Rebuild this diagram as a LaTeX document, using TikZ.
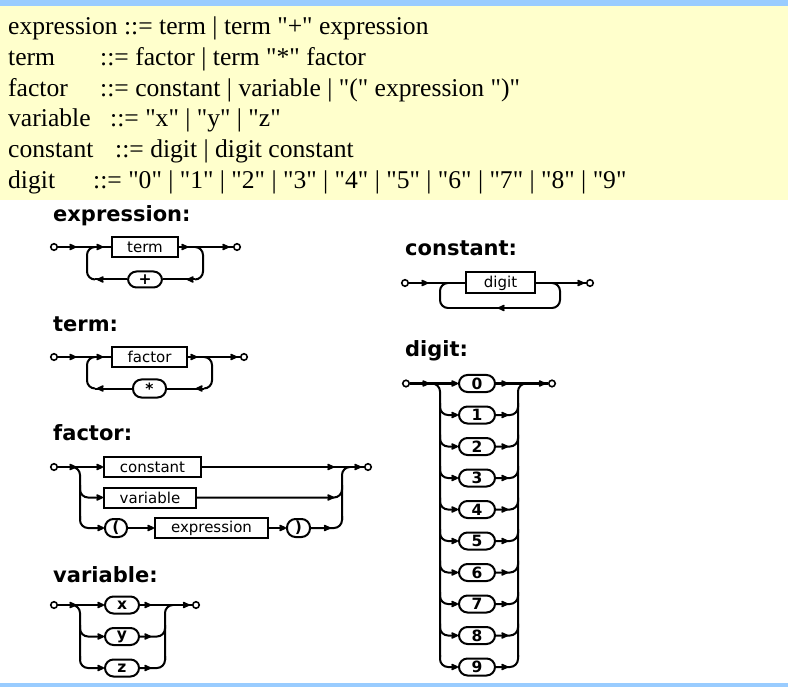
\documentclass[tikz,border=0pt]{standalone}
\usepackage{fontspec}
\setmainfont{Liberation Serif}[Ligatures=TeXOff]
\newfontfamily\dvs{DejaVu Sans}
\usetikzlibrary{arrows.meta,decorations.markings}
\definecolor{hdrblue}{RGB}{153,204,255}
\definecolor{codeyellow}{RGB}{255,255,204}
\tikzset{
  tipA/.tip={Stealth[length=8.5pt,width=8pt,inset=1.6pt,round]},
  ln/.style={line width=2pt},
  ah/.style={decoration={markings,mark=at position #1 with {\arrow{tipA}}},postaction={decorate}},
  ahh/.style 2 args={decoration={markings,mark=at position #1 with {\arrow{tipA}},mark=at position #2 with {\arrow{tipA}}},postaction={decorate}},
  boxn/.style={draw, line width=2pt, rectangle, minimum height=20pt, inner sep=0pt, font=\dvs\fontsize{15}{16}\selectfont},
  ovaln/.style={draw, line width=2pt, rectangle, rounded corners=8.5pt, minimum height=17pt, inner sep=0pt, font=\dvs\bfseries\fontsize{15.5}{16}\selectfont},
  endpt/.style={circle, draw, line width=1.6pt, fill=white, inner sep=0pt, minimum size=6.5pt},
  ttl/.style={anchor=base west, inner sep=0pt, font=\dvs\bfseries\fontsize{21}{24}\selectfont},
  gram/.style={anchor=base west, inner sep=0pt, font=\fontsize{25.6}{30}\selectfont},
}
\begin{document}
\begin{tikzpicture}[x=1pt,y=-1pt]
\useasboundingbox (0,0) rectangle (788,687);
\fill[white] (0,0) rectangle (788,687);
\fill[codeyellow] (0,6) rectangle (788,200);
\fill[hdrblue] (0,0) rectangle (788,6);
\fill[hdrblue] (0,683) rectangle (788,687);

% grammar text
\node[gram] (g1) at (8,34.5) {expression ::= term | term "+" expression};
\node[gram] (g2a) at (8,65.5) {term};
\node[gram] (g2b) at (100,65.5) {::= factor | term "*" factor};
\node[gram] (g3a) at (8,96.5) {factor};
\node[gram] (g3b) at (100,96.5) {::= constant | variable | "(" expression ")"};
\node[gram] (g4a) at (8,127) {variable};
\node[gram] (g4b) at (110,127) {::= "x" | "y" | "z"};
\node[gram] (g5a) at (8,158) {constant};
\node[gram] (g5b) at (115,158) {::= digit | digit constant};
\node[gram] (g6a) at (8,189) {digit};
\node[gram] (g6b) at (93,189) {::= "0" | "1" | "2" | "3" | "4" | "5" | "6" | "7" | "8" | "9"};

% titles
\node[ttl] (tExpr) at (53,222) {expression:};
\node[ttl] (tTerm) at (53,332) {term:};
\node[ttl] (tFact) at (53,440) {factor:};
\node[ttl] (tVar) at (53,582) {variable:};
\node[ttl] (tConst) at (405,256) {constant:};
\node[ttl] (tDig) at (405,357) {digit:};

% ---------- expression ----------
\node[endpt] (e0) at (54,247) {};
\node[boxn, minimum width=66pt] (eT) at (145,247) {term};
\node[ovaln, minimum width=34pt, minimum height=16pt] (eP) at (145,279.5) {+};
\node[endpt] (e1) at (237,247) {};
\coordinate (eTL) at (95,247); \coordinate (eCL1) at (87,247);
\coordinate (eCL2) at (87,279.5); \coordinate (eBL) at (95,279.5);
\coordinate (eTR) at (195,247); \coordinate (eCR1) at (203,247);
\coordinate (eCR2) at (203,279.5); \coordinate (eBR) at (195,279.5);
\draw[ln, ahh={18pt}{45pt}] (e0) -- (eT);
\draw[ln, ahh={9pt}{50pt}] (eT) -- (e1);
\draw[ln, rounded corners=8pt] (eTR) -- (eCR1) -- (eCR2) -- (eBR);
\draw[ln, ah=8pt] (eBR) -- (eP);
\draw[ln, ah=30pt] (eP) -- (eBL);
\draw[ln, rounded corners=8pt] (eBL) -- (eCL2) -- (eCL1) -- (eTL);

% ---------- term ----------
\node[endpt] (t0) at (54,357) {};
\node[boxn, minimum width=75pt] (tF) at (149.5,357) {factor};
\node[ovaln, minimum width=33pt, minimum height=18pt] (tS) at (149.5,388.5) {*};
\node[endpt] (t1) at (244,357) {};
\coordinate (tTL) at (95,357); \coordinate (tCL1) at (87,357);
\coordinate (tCL2) at (87,388.5); \coordinate (tBL) at (95,388.5);
\coordinate (tTR) at (204,357); \coordinate (tCR1) at (212,357);
\coordinate (tCR2) at (212,388.5); \coordinate (tBR) at (204,388.5);
\draw[ln, ahh={18pt}{45pt}] (t0) -- (tF);
\draw[ln, ahh={9pt}{49pt}] (tF) -- (t1);
\draw[ln, rounded corners=8pt] (tTR) -- (tCR1) -- (tCR2) -- (tBR);
\draw[ln, ah=8pt] (tBR) -- (tS);
\draw[ln, ah=35pt] (tS) -- (tBL);
\draw[ln, rounded corners=8pt] (tBL) -- (tCL2) -- (tCL1) -- (tTL);

% ---------- factor ----------
\node[endpt] (f0) at (54,467) {};
\node[boxn, minimum width=97pt] (fC) at (152.5,467) {constant};
\node[boxn, minimum width=92pt] (fV) at (150,497.5) {variable};
\node[ovaln, minimum width=22pt, minimum height=18pt] (fLP) at (116,528) {(};
\node[boxn, minimum width=113pt] (fE) at (211.5,528) {expression};
\node[ovaln, minimum width=23pt, minimum height=18pt] (fRP) at (298.5,528) {)};
\node[endpt] (f1) at (368,467) {};
\draw[ln, ah=18pt, -{tipA}] (f0) -- (fC);
\draw[ln, ahh={132pt}{159pt}] (fC) -- (f1);
\draw[ln, rounded corners=8pt] (72,467) -- (80,467) -- (80,520);
\draw[ln, rounded corners=8pt, -{tipA}] (80,485) -- (80,497.5) -- (fV);
\draw[ln, rounded corners=8pt, -{tipA}] (80,516) -- (80,528) -- (fLP);
\draw[ln, -{tipA}] (fLP) -- (fE);
\draw[ln, -{tipA}] (fE) -- (fRP);
\draw[ln, rounded corners=8pt, ah=137pt] (fV) -- (342,497.5) -- (342,485);
\draw[ln, rounded corners=8pt, ah=19.5pt] (fRP) -- (342,528) -- (342,516);
\draw[ln, rounded corners=8pt] (342,520) -- (342,467) -- (350,467);

% ---------- variable ----------
\node[endpt] (v0) at (54,605) {};
\node[ovaln, minimum width=34pt] (vX) at (122,605) {x};
\node[ovaln, minimum width=34pt] (vY) at (122,636.5) {y};
\node[ovaln, minimum width=34pt] (vZ) at (122,668) {z};
\node[endpt] (v1) at (196,605) {};
\draw[ln, ah=18pt, -{tipA}] (v0) -- (vX);
\draw[ln, ahh={11pt}{49.5pt}] (vX) -- (v1);
\draw[ln, rounded corners=8pt] (72,605) -- (80,605) -- (80,660);
\draw[ln, rounded corners=8pt, -{tipA}] (80,625) -- (80,636.5) -- (vY);
\draw[ln, rounded corners=8pt, -{tipA}] (80,656) -- (80,668) -- (vZ);
\draw[ln, rounded corners=8pt, ah=11pt] (vY) -- (165,636.5) -- (165,625);
\draw[ln, rounded corners=8pt, ah=11pt] (vZ) -- (165,668) -- (165,656);
\draw[ln, rounded corners=8pt] (165,660) -- (165,605) -- (173,605);

% ---------- constant ----------
\node[endpt] (c0) at (405,283) {};
\node[boxn, minimum width=69pt, minimum height=21pt] (cD) at (500.5,283) {digit};
\node[endpt] (c1) at (590,283) {};
\coordinate (cTL) at (448,283); \coordinate (cCL1) at (440,283);
\coordinate (cCL2) at (440,308); \coordinate (cBL) at (448,308);
\coordinate (cTR) at (552,283); \coordinate (cCR1) at (560,283);
\coordinate (cCR2) at (560,308); \coordinate (cBR) at (552,308);
\draw[ln, ah=19pt] (c0) -- (cD);
\draw[ln, ah=48pt] (cD) -- (c1);
\draw[ln, rounded corners=8pt] (cTR) -- (cCR1) -- (cCR2) -- (cBR);
\draw[ln, ah=54pt] (cBR) -- (cBL);
\draw[ln, rounded corners=8pt] (cBL) -- (cCL2) -- (cCL1) -- (cTL);

% ---------- digit ----------
\node[endpt] (dS) at (406,383.5) {};
\node[endpt] (dE) at (552,383.5) {};
\foreach \d in {0,...,9} {
  \pgfmathsetmacro\yy{383.5+31.5*\d}
  \node[ovaln, minimum width=36pt] (d\d) at (477,\yy) {\d};
}
\draw[ln, ah=19pt, -{tipA}] (dS) -- (d0);
\draw[ln, ahh={12pt}{49.5pt}] (d0) -- (dE);
\foreach \d in {1,...,9} {
  \pgfmathsetmacro\yy{383.5+31.5*\d}
  \draw[ln, rounded corners=8pt, -{tipA}] (440,\yy-12) -- (440,\yy) -- (d\d);
  \draw[ln, rounded corners=8pt, ah=12pt] (d\d) -- (518,\yy) -- (518,\yy-12);
}
\draw[ln, rounded corners=8pt] (432,383.5) -- (440,383.5) -- (440,657);
\draw[ln, rounded corners=8pt] (518,657) -- (518,383.5) -- (526,383.5);
\end{tikzpicture}
\end{document}
